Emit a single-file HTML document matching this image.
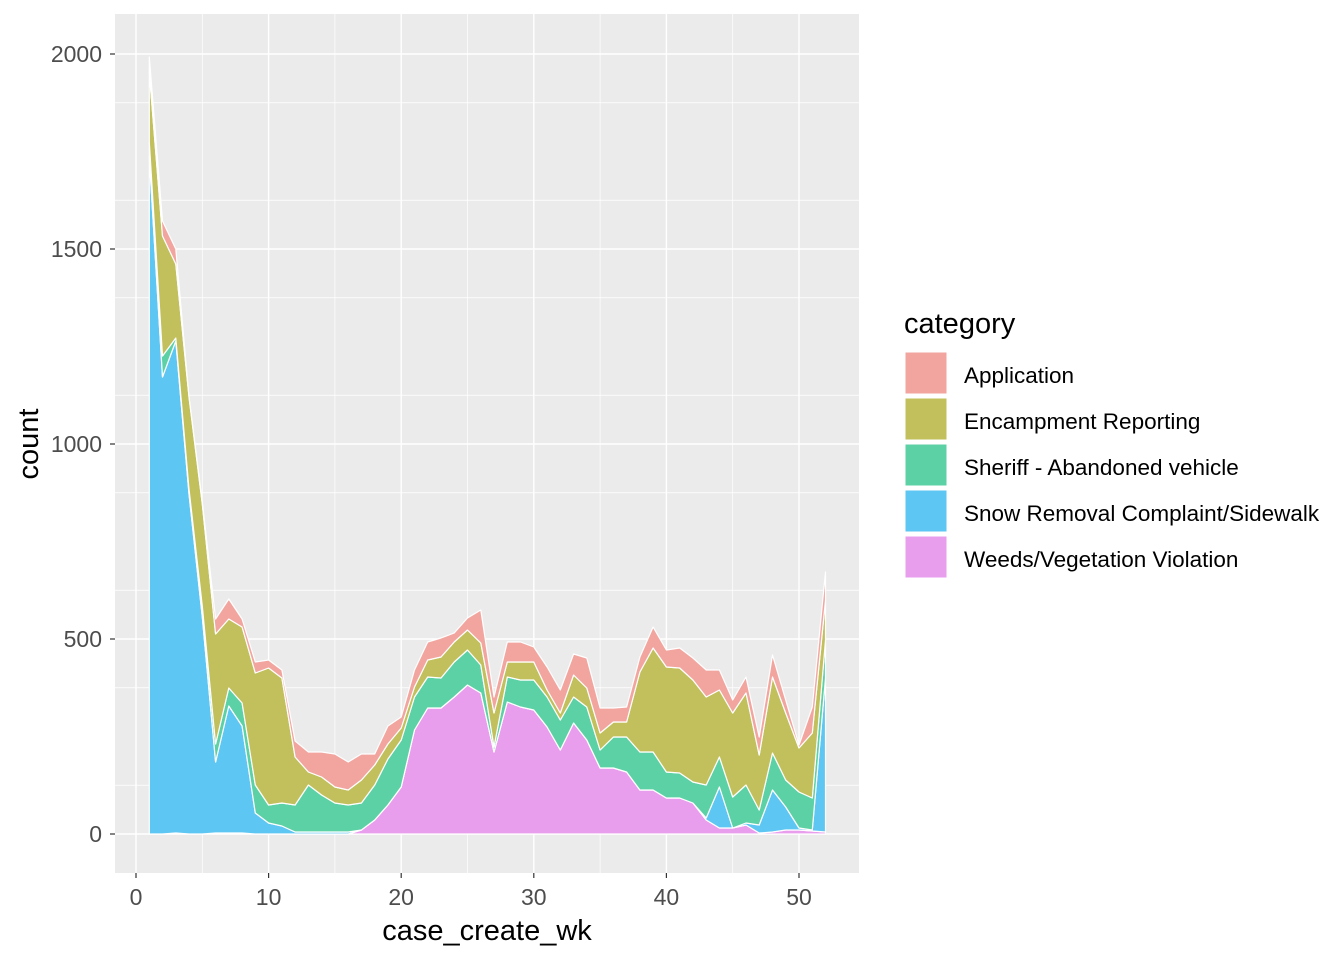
<!DOCTYPE html>
<html><head><meta charset="utf-8"><style>
html,body{margin:0;padding:0;background:#fff;}
svg{display:block;font-family:"Liberation Sans",Arial,sans-serif;}
</style></head><body>
<svg id="s" width="1344" height="960" xmlns="http://www.w3.org/2000/svg">
<rect x="115" y="14" width="744" height="859" fill="#ebebeb"/>
<g id="grid"></g>
<g id="areas"></g>
<g fill="#4d4d4d" font-size="23" text-anchor="end">
<text x="102" y="842">0</text>
<text x="102" y="647">500</text>
<text x="102" y="452">1000</text>
<text x="102" y="257">1500</text>
<text x="102" y="62">2000</text>
</g>
<g fill="#4d4d4d" font-size="23" text-anchor="middle">
<text x="136" y="905">0</text>
<text x="268.6" y="905">10</text>
<text x="401.2" y="905">20</text>
<text x="533.8" y="905">30</text>
<text x="666.4" y="905">40</text>
<text x="799" y="905">50</text>
</g>
<g stroke="#333" stroke-width="1.2">
<line x1="110" x2="115" y1="834" y2="834"/><line x1="110" x2="115" y1="639" y2="639"/><line x1="110" x2="115" y1="444" y2="444"/><line x1="110" x2="115" y1="249" y2="249"/><line x1="110" x2="115" y1="54" y2="54"/>
<line x1="136" x2="136" y1="873" y2="878"/><line x1="268.6" x2="268.6" y1="873" y2="878"/><line x1="401.2" x2="401.2" y1="873" y2="878"/><line x1="533.8" x2="533.8" y1="873" y2="878"/><line x1="666.4" x2="666.4" y1="873" y2="878"/><line x1="799" x2="799" y1="873" y2="878"/>
</g>
<text x="487" y="940" font-size="29" text-anchor="middle" fill="#000">case_create_wk</text>
<text transform="translate(38,444) rotate(-90)" font-size="29" text-anchor="middle" fill="#000">count</text>
<text x="904" y="333" font-size="29" fill="#000">category</text>
<g stroke="#fff" stroke-width="1">
<rect x="905" y="352" width="42" height="42" fill="#f2a59f"/>
<rect x="905" y="398" width="42" height="42" fill="#c1c05c"/>
<rect x="905" y="444" width="42" height="42" fill="#5dd1a6"/>
<rect x="905" y="490" width="42" height="42" fill="#5ec6f2"/>
<rect x="905" y="536" width="42" height="42" fill="#e99ded"/>
</g>
<g font-size="22.5" fill="#000">
<text x="964" y="383">Application</text>
<text x="964" y="429">Encampment Reporting</text>
<text x="964" y="475">Sheriff - Abandoned vehicle</text>
<text x="964" y="521">Snow Removal Complaint/Sidewalk</text>
<text x="964" y="567">Weeds/Vegetation Violation</text>
</g>
</svg>
<script>
var NS="http://www.w3.org/2000/svg";
function el(t,a,p){var e=document.createElementNS(NS,t);for(var k in a)e.setAttribute(k,a[k]);p.appendChild(e);return e;}
var g=document.getElementById("grid");
function X(w){return 136+13.26*w;}
for(var i=0;i<8;i++){var y=834-97.5*i-48.75;if(y>14)el("line",{x1:115,x2:859,y1:y,y2:y,stroke:"#fff","stroke-width":0.7},g);}
el("line",{x1:115,x2:859,y1:834+48.75,y2:834+48.75,stroke:"#fff","stroke-width":0.7},g);
for(var i=0;i<6;i++){var x=X(10*i+5);el("line",{x1:x,x2:x,y1:14,y2:873,stroke:"#fff","stroke-width":0.7},g);}
for(var i=0;i<5;i++){var y=834-195*i;el("line",{x1:115,x2:859,y1:y,y2:y,stroke:"#fff","stroke-width":1.4},g);}
for(var i=0;i<6;i++){var x=X(10*i);el("line",{x1:x,x2:x,y1:14,y2:873,stroke:"#fff","stroke-width":1.4},g);}
var D=[
[1,834,157,142,72,57],[2,834,377,356,236,221],[3,833,341,338,264,249],[4,834,494,489,397,397],
[5,834,617,606,504,502],[6,833,762,744,634,619],[7,833,706,688,619,599],[8,833,726,703,627,619],
[9,834,813,785,673,662],[10,834,823,805,668,660],[11,834,826,803,678,670],[12,834,832,805,757,741],
[13,834,832,785,772,752],[14,834,832,795,777,752],[15,834,832,803,787,754],[16,834,832,805,790,762],
[17,830,830,803,780,754],[18,820,820,785,765,754],[19,805,805,759,744,726],[20,787,787,740,728,717],
[21,730,730,697,687,670],[22,708,708,677,660,642],[23,708,708,678,657,638],[24,697,697,662,642,633],
[25,685,685,650,630,618],[26,693,693,665,643,610],[27,752,752,747,713,697],[28,702,702,677,662,642],
[29,707,707,680,662,642],[30,710,710,680,662,647],[31,727,727,697,690,667],[32,750,750,720,713,690],
[33,723,723,697,675,654],[34,740,740,707,688,658],[35,768,768,750,733,708],[36,768,768,737,722,708],
[37,772,772,737,722,707],[38,790,790,752,672,657],[39,790,790,752,648,627],[40,798,798,772,667,650],
[41,798,798,773,668,648],[42,803,803,782,680,658],[43,820,818,785,697,670],[44,828,787,757,690,670],
[45,828,828,797,713,700],[46,825,823,785,693,677],[47,833,825,810,755,737],[48,832,790,753,677,655],
[49,830,807,780,713,700],[50,830,828,792,748,745],[51,831,830,798,733,707],[52,832,678,640,600,572]];
var cols=["#e99ded","#5ec6f2","#5dd1a6","#c1c05c","#f2a59f"];
var A=document.getElementById("areas");
for(var k=0;k<5;k++){
 var pts=[];
 for(var i=0;i<D.length;i++)pts.push(X(D[i][0]).toFixed(1)+","+D[i][k+1]);
 for(var i=D.length-1;i>=0;i--)pts.push(X(D[i][0]).toFixed(1)+","+(k==0?834:D[i][k]));
 el("polygon",{points:pts.join(" "),fill:cols[k],stroke:"#fff","stroke-width":1.2,"stroke-linejoin":"round"},A);
}
</script>
</body></html>
